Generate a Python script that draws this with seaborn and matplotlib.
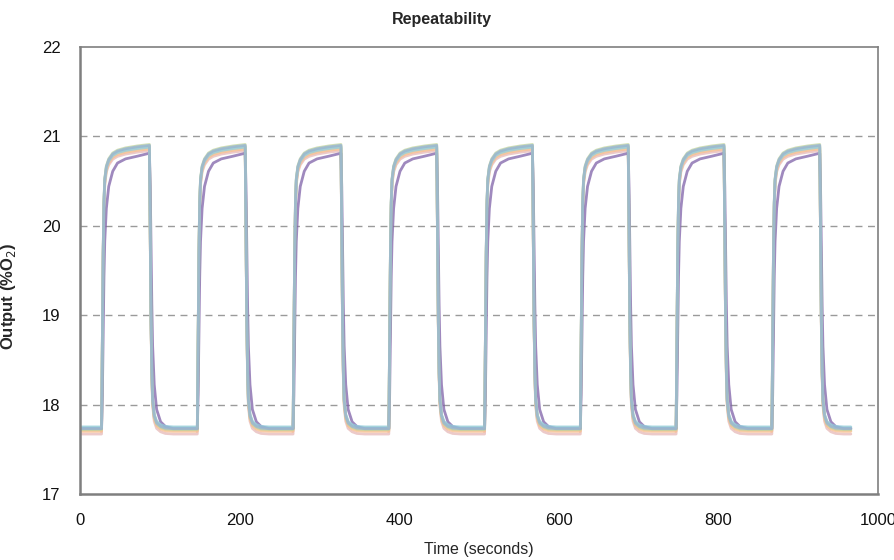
import numpy as np
import pandas as pd
import matplotlib
matplotlib.use("Agg")
import matplotlib.pyplot as plt
import seaborn as sns

# ---- data ----
rise_times = [27, 147, 267, 387, 507, 627, 747, 867]       # s, O2 switched on
fall_times = [87, 207, 327, 447, 567, 687, 807, 927]       # s, O2 switched off
t_end = 966

sensors   = ["S1", "S2", "S3", "S4", "S5", "S6", "S7", "S8"]
high_lvls = [20.90, 20.91, 20.88, 20.86, 20.84, 20.81, 20.87, 20.89]
low_lvls  = [17.73, 17.72, 17.75, 17.70, 17.67, 17.73, 17.71, 17.74]
speed     = ["fast", "fast", "fast", "fast", "fast", "slow", "fast", "fast"]
colors    = ["#B7C7A0", "#D7E4BD", "#E6B9B8", "#FAC090", "#7F62A8", "#93CDDD", "#C3D69B", "#95B3D7"]
plot_order = ["S8", "S7", "S5", "S4", "S6", "S3", "S2", "S1"]

resp_offsets = [0, 1, 2, 3, 4, 6, 9, 14, 20, 30, 45, 59]
rise_fast    = [0, 0.30, 0.62, 0.80, 0.88, 0.925, 0.95, 0.97, 0.98, 0.988, 0.995, 1.0]
rise_slow    = [0, 0.12, 0.35, 0.55, 0.68, 0.80, 0.88, 0.935, 0.965, 0.98, 0.99, 1.0]
fall_fast    = [0, 0.30, 0.62, 0.80, 0.90, 0.955, 0.98, 0.992, 0.998, 1.0, 1.0, 1.0]
fall_slow    = [0, 0.12, 0.35, 0.55, 0.70, 0.84, 0.93, 0.975, 0.992, 1.0, 1.0, 1.0]

rows = []
for name, hi, lo, sp in zip(sensors, high_lvls, low_lvls, speed):
    rprof = rise_fast if sp == "fast" else rise_slow
    fprof = fall_fast if sp == "fast" else fall_slow
    rows.append((name, 0.0, lo))
    for r, f in zip(rise_times, fall_times):
        for o, fr in zip(resp_offsets, rprof):
            rows.append((name, r + o, lo + fr * (hi - lo)))
        for o, fr in zip(resp_offsets, fprof):
            t = f + o
            if t > t_end:
                break
            rows.append((name, t, hi - fr * (hi - lo)))
    rows.append((name, t_end, lo))
df = pd.DataFrame(rows, columns=["sensor", "time", "o2"])

# ---- plot ----
sns.set_theme(style="white")
plt.rcParams["font.family"] = ["Liberation Sans", "DejaVu Sans"]

fig = plt.figure(figsize=(8.95, 5.6), dpi=100)
ax = fig.add_axes([0.0894, 0.118, 0.8916, 0.798])

sns.lineplot(data=df, x="time", y="o2", hue="sensor", palette=colors,
             hue_order=plot_order, linewidth=2.0, alpha=0.75, legend=False,
             ax=ax, estimator=None, sort=True)

ax.set_xlim(0, 1000)
ax.set_ylim(17, 22)
ax.set_xticks([0, 200, 400, 600, 800, 1000])
ax.set_yticks([17, 18, 19, 20, 21, 22])
for yv in [18, 19, 20, 21]:
    ax.axhline(yv, color="#9A9A9A", lw=1.0, ls=(0, (5, 4)), zorder=0)
ax.grid(False)
ax.tick_params(axis="both", length=0, labelsize=12, colors="#111111")
ax.tick_params(axis="x", pad=14)
ax.tick_params(axis="y", pad=14)
for s in ax.spines.values():
    s.set_color("#7F7F7F")
    s.set_linewidth(1.2)
ax.spines["left"].set_linewidth(1.8)
ax.spines["bottom"].set_linewidth(1.8)

ax.set_xlabel("Time (seconds)", fontsize=11.5, labelpad=10)
ax.set_ylabel("Output (%O$_2$)", fontsize=12, fontweight="bold")
ax.yaxis.set_label_coords(-0.078, 0.443)
fig.suptitle("Repeatability", fontsize=11.5, fontweight="bold", x=0.494, y=0.978)

fig.savefig("out.png", dpi=100)
